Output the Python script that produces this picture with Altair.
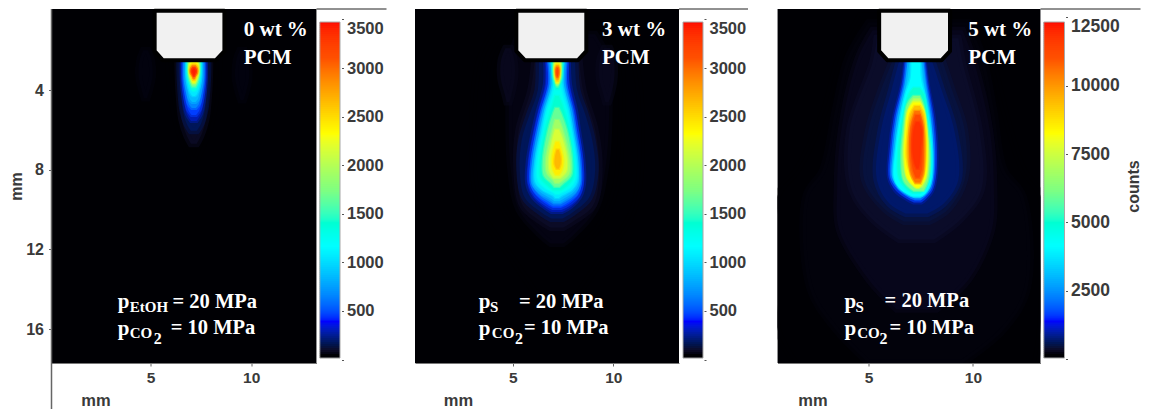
import altair as alt
import numpy as np
import pandas as pd

alt.data_transformers.disable_max_rows()

# colour ramp stops, as fractions of each bar's top value
STOP_T = [0, 0.012, 0.11, 0.333, 0.5, 0.667, 0.89, 1]
STOP_C = ["#000000", "#000004", "#0000ff", "#00ffff", "#80ff80", "#ffff00", "#ff5000", "#ff0000"]

Y_DOMAIN = [17.70, -0.066]
X_DOMAINS = [[0.07, 13.25], [0.14, 13.27], [0.646, 13.23]]
WIDTHS = [265, 264, 263]
BAR_TOPS = [3473, 3473, 12335]
BAR_BOTTOMS = [16, 16, 37]
BAR_DOMAINS = [[-35, 3607], [-35, 3607], [-146, 12811]]
BAR_TICKS = [[0, 500, 1000, 1500, 2000, 2500, 3000, 3500],
             [0, 500, 1000, 1500, 2000, 2500, 3000, 3500],
             [0, 2500, 5000, 7500, 10000, 12500]]

# measured iso-count outlines: (counts, [(y mm, left mm, right mm), ...])
P1_CONTOURS = [
    (0, [(-0.066, 0.07, 13.25), (17.70, 0.07, 13.25)]),
    (30, [(2.4, 5.9, 8.4), (4, 6.0, 8.3), (6, 6.4, 7.9), (7.2, 6.9, 7.4), (7.6, 7.15, 7.15)]),
    (50, [(2.0, 4.75, 4.75), (2.5, 4.45, 5.05), (3.3, 4.4, 5.1), (4.0, 4.55, 4.95), (4.4, 4.75, 4.75)]),
    (50, [(2.0, 9.55, 9.55), (2.5, 9.25, 9.85), (3.4, 9.2, 9.9), (4.1, 9.35, 9.75), (4.5, 9.55, 9.55)]),
    (80, [(2.4, 6.35, 7.95), (4, 6.4, 7.9), (5.5, 6.55, 7.75), (6.3, 6.8, 7.5), (6.7, 7.15, 7.15)]),
    (160, [(2.4, 6.45, 7.85), (3.5, 6.47, 7.83), (5, 6.6, 7.7), (5.7, 6.8, 7.5), (6.05, 7.15, 7.15)]),
    (280, [(2.4, 6.55, 7.75), (3.5, 6.55, 7.75), (4.5, 6.65, 7.65), (5.2, 6.8, 7.5), (5.55, 7.15, 7.15)]),
    (450, [(2.4, 6.62, 7.68), (3.5, 6.62, 7.68), (4.4, 6.72, 7.58), (5.0, 6.87, 7.43), (5.25, 7.15, 7.15)]),
    (650, [(2.4, 6.68, 7.62), (3.5, 6.68, 7.62), (4.2, 6.78, 7.52), (4.7, 6.9, 7.4), (4.9, 7.15, 7.15)]),
    (850, [(2.4, 6.73, 7.57), (3.4, 6.73, 7.57), (4.0, 6.83, 7.47), (4.45, 6.95, 7.35), (4.6, 7.15, 7.15)]),
    (1050, [(2.4, 6.78, 7.52), (3.3, 6.78, 7.52), (3.85, 6.87, 7.43), (4.2, 7.0, 7.3), (4.3, 7.15, 7.15)]),
    (1300, [(2.4, 6.82, 7.48), (3.2, 6.82, 7.48), (3.7, 6.92, 7.38), (4.0, 7.05, 7.25), (4.05, 7.15, 7.15)]),
    (1600, [(2.45, 6.85, 7.45), (3.2, 6.87, 7.43), (3.6, 6.95, 7.35), (3.85, 7.15, 7.15)]),
    (1900, [(2.55, 6.9, 7.4), (3.1, 6.9, 7.4), (3.5, 6.98, 7.32), (3.72, 7.15, 7.15)]),
    (2300, [(2.6, 7.0, 7.32), (2.75, 6.93, 7.37), (3.15, 6.93, 7.37), (3.45, 7.02, 7.28), (3.62, 7.15, 7.15)]),
    (2700, [(2.72, 7.15, 7.15), (2.85, 6.97, 7.33), (3.15, 6.97, 7.33), (3.4, 7.07, 7.23), (3.5, 7.15, 7.15)]),
    (3100, [(2.82, 7.15, 7.15), (2.95, 7.0, 7.3), (3.15, 7.0, 7.3), (3.3, 7.1, 7.2), (3.38, 7.15, 7.15)]),
    (3400, [(2.92, 7.15, 7.15), (3.05, 7.05, 7.25), (3.2, 7.1, 7.2), (3.28, 7.15, 7.15)]),
]

P2_CONTOURS = [
    (15, [(-0.066, 0.14, 13.27), (17.70, 0.14, 13.27)]),
    (25, [(0.3, 4.6, 9.8), (2.4, 3.4, 11.0), (6, 3.0, 11.4), (10, 3.4, 11.0), (12.5, 5.0, 9.4), (14.5, 7.2, 7.2)]),
    (35, [(0.8, 5.0, 9.4), (2.4, 4.0, 10.3), (6, 3.9, 10.4), (9, 4.2, 10.1), (11, 5.2, 9.2), (12.5, 6.7, 7.7), (13, 7.2, 7.2)]),
    (55, [(1.2, 5.3, 9.1), (2.4, 4.9, 9.7), (5, 4.8, 9.8), (8, 4.9, 9.6), (10, 5.3, 9.1), (11.3, 6.4, 8.0), (11.7, 7.2, 7.2)]),
    (70, [(1.9, 4.77, 4.77), (2.5, 4.42, 5.08), (3.4, 4.4, 5.1), (4.2, 4.6, 4.95), (4.6, 4.77, 4.77)]),
    (70, [(1.9, 9.69, 9.69), (2.5, 9.32, 10.03), (3.4, 9.3, 10.05), (4.2, 9.5, 9.9), (4.6, 9.69, 9.69)]),
    (85, [(2.4, 6.1, 8.3), (4, 5.9, 8.5), (6, 5.3, 9.1), (8, 5.2, 9.3), (9.8, 5.5, 9.0), (10.6, 6.4, 8.0), (10.9, 7.2, 7.2)]),
    (160, [(2.4, 6.3, 8.1), (4, 6.25, 8.2), (5.2, 5.85, 8.6), (6.5, 5.45, 8.95), (8, 5.35, 9.1), (9.4, 5.6, 8.8), (10.2, 6.5, 7.9), (10.45, 7.2, 7.2)]),
    (280, [(2.4, 6.6, 7.8), (3.7, 6.6, 7.85), (5.04, 6.25, 8.15), (6.04, 6.02, 8.3), (7.54, 5.75, 8.52), (8.7, 5.72, 8.55), (9.37, 6.0, 8.35), (9.87, 6.55, 7.9), (10.12, 7.2, 7.2)]),
    (450, [(2.4, 6.72, 7.72), (3.7, 6.75, 7.72), (5.04, 6.38, 8.02), (6.04, 6.15, 8.2), (7.54, 5.88, 8.42), (8.7, 5.85, 8.44), (9.3, 6.15, 8.25), (9.75, 6.7, 7.75), (9.92, 7.2, 7.2)]),
    (650, [(2.4, 6.78, 7.66), (3.7, 6.85, 7.62), (5.04, 6.48, 7.95), (6.04, 6.25, 8.1), (7.54, 5.98, 8.33), (8.7, 5.95, 8.35), (9.2, 6.25, 8.15), (9.6, 6.8, 7.65), (9.75, 7.2, 7.2)]),
    (850, [(2.4, 6.84, 7.6), (3.7, 6.92, 7.55), (5.04, 6.55, 7.87), (6.04, 6.33, 8.03), (7.54, 6.06, 8.26), (8.7, 6.02, 8.28), (9.1, 6.35, 8.05), (9.45, 6.9, 7.55), (9.58, 7.2, 7.2)]),
    (1050, [(2.4, 6.9, 7.55), (3.7, 7.0, 7.48), (5.04, 6.63, 7.8), (6.04, 6.42, 7.97), (7.54, 6.14, 8.2), (8.6, 6.12, 8.2), (9.0, 6.45, 7.95), (9.3, 7.0, 7.45), (9.42, 7.2, 7.2)]),
    (1250, [(2.4, 6.96, 7.5), (3.7, 7.08, 7.38), (4.3, 6.98, 7.48), (5.04, 6.72, 7.7), (6.04, 6.52, 7.88), (7.54, 6.25, 8.1), (8.5, 6.25, 8.1), (8.9, 6.6, 7.85), (9.15, 7.05, 7.4), (9.22, 7.2, 7.2)]),
    (1400, [(2.4, 6.98, 7.47), (3.4, 7.0, 7.45), (3.75, 7.1, 7.35), (3.95, 7.22, 7.22)]),
    (1400, [(4.3, 7.2, 7.2), (4.7, 7.0, 7.45), (6.04, 6.62, 7.8), (7.54, 6.38, 8.02), (8.4, 6.4, 8.0), (8.8, 6.75, 7.7), (9.02, 7.2, 7.2)]),
    (1650, [(2.4, 7.03, 7.42), (3.4, 7.05, 7.4), (3.7, 7.14, 7.3), (3.82, 7.22, 7.22)]),
    (1650, [(4.9, 7.2, 7.2), (5.2, 7.0, 7.42), (6.04, 6.75, 7.7), (7.54, 6.5, 7.95), (8.3, 6.55, 7.9), (8.65, 6.9, 7.55), (8.85, 7.2, 7.2)]),
    (1900, [(2.5, 7.07, 7.38), (3.35, 7.07, 7.37), (3.6, 7.15, 7.3), (3.72, 7.22, 7.22)]),
    (1900, [(5.5, 7.2, 7.2), (5.9, 7.0, 7.45), (7.54, 6.65, 7.83), (8.2, 6.72, 7.8), (8.5, 7.0, 7.5), (8.65, 7.2, 7.2)]),
    (2150, [(2.6, 7.1, 7.35), (3.3, 7.1, 7.34), (3.55, 7.18, 7.27), (3.65, 7.22, 7.22)]),
    (2150, [(6.0, 7.2, 7.2), (6.4, 7.0, 7.45), (7.54, 6.8, 7.7), (8.1, 6.85, 7.65), (8.4, 7.2, 7.2)]),
    (2400, [(2.67, 7.22, 7.22), (2.8, 7.1, 7.35), (3.3, 7.12, 7.33), (3.62, 7.22, 7.22)]),
    (2400, [(6.6, 7.22, 7.22), (7.0, 7.02, 7.42), (7.55, 6.95, 7.52), (8.0, 7.0, 7.45), (8.25, 7.22, 7.22)]),
    (2650, [(2.75, 7.22, 7.22), (2.88, 7.12, 7.33), (3.25, 7.14, 7.31), (3.52, 7.22, 7.22)]),
    (2650, [(7.0, 7.24, 7.24), (7.35, 7.1, 7.38), (7.7, 7.08, 7.38), (7.95, 7.24, 7.24)]),
    (2900, [(2.82, 7.22, 7.22), (2.95, 7.14, 7.3), (3.25, 7.16, 7.28), (3.42, 7.22, 7.22)]),
    (3200, [(2.9, 7.22, 7.22), (3.0, 7.17, 7.27), (3.2, 7.17, 7.27), (3.32, 7.22, 7.22)]),
]

P3_CONTOURS = [
    (40, [(-0.066, 0.646, 13.23), (17.70, 0.646, 13.23)]),
    (90, [(0.3, 4.6, 10.2), (2.4, 3.6, 10.9), (5, 2.9, 11.5), (8, 1.6, 12.4), (9.3, 0.646, 13.23), (16, 0.646, 13.23), (17.7, 1.5, 13.0)]),
    (170, [(0.6, 5.0, 9.8), (2.4, 4.0, 10.5), (5, 3.4, 11.0), (8, 2.8, 11.5), (9.3, 2.0, 12.4), (14, 2.2, 12.6), (16, 3.4, 11.5), (17.7, 5.0, 9.5)]),
    (240, [(1.0, 5.2, 9.5), (2.4, 4.5, 10.0), (6, 3.7, 10.8), (9, 3.5, 11.0), (11, 3.6, 10.9), (13.5, 5.0, 9.8), (15.0, 7.3, 7.3)]),
    (320, [(1.4, 5.4, 9.3), (2.6, 5.2, 9.5), (6, 4.1, 10.3), (9, 4.2, 10.4), (10.5, 5.2, 9.4), (11.5, 7.3, 7.3)]),
    (430, [(2.4, 6.2, 8.5), (4, 5.6, 9.0), (6, 5.0, 9.6), (8.5, 4.8, 9.6), (10, 5.8, 8.8), (10.6, 7.3, 7.3)]),
    (650, [(2.4, 6.5, 8.0), (4, 6.1, 8.5), (6, 5.6, 9.1), (8.5, 5.4, 9.3), (9.7, 6.0, 8.6), (10.2, 7.3, 7.3)]),
    (1000, [(2.4, 6.77, 7.68), (3.71, 6.61, 7.84), (5.38, 6.22, 8.13), (7.06, 6.02, 8.26), (8.39, 5.98, 8.21), (9.06, 6.3, 8.05), (9.48, 6.85, 7.73), (9.65, 7.35, 7.35)]),
    (1700, [(2.4, 6.82, 7.63), (3.7, 6.68, 7.78), (5.38, 6.3, 8.05), (7.06, 6.1, 8.18), (8.39, 6.06, 8.13), (9.0, 6.4, 7.98), (9.42, 6.95, 7.65), (9.55, 7.35, 7.35)]),
    (2500, [(2.4, 6.88, 7.58), (3.7, 6.75, 7.72), (5.38, 6.38, 7.98), (7.06, 6.18, 8.1), (8.39, 6.14, 8.05), (8.95, 6.5, 7.92), (9.33, 7.0, 7.6), (9.43, 7.35, 7.35)]),
    (3300, [(2.4, 6.98, 7.52), (3.7, 6.82, 7.66), (5.38, 6.46, 7.9), (7.06, 6.26, 8.02), (8.39, 6.22, 7.99), (8.9, 6.6, 7.85), (9.25, 7.05, 7.55), (9.35, 7.35, 7.35)]),
    (4100, [(2.4, 7.05, 7.46), (3.38, 7.02, 7.5), (4.21, 6.77, 7.68), (5.38, 6.53, 7.89), (7.06, 6.3, 8.05), (8.39, 6.22, 8.02), (8.9, 6.45, 7.89), (9.26, 6.93, 7.65), (9.35, 7.3, 7.3)]),
    (5000, [(3.88, 7.3, 7.3), (4.21, 6.93, 7.65), (5.38, 6.65, 7.81), (7.06, 6.42, 7.97), (8.39, 6.45, 7.92), (8.9, 6.77, 7.73), (9.15, 7.3, 7.3)]),
    (6150, [(4.3, 7.3, 7.3), (4.72, 6.85, 7.62), (6.05, 6.66, 7.84), (7.39, 6.57, 7.94), (8.56, 6.69, 7.84), (9.06, 7.4, 7.4)]),
    (7200, [(4.46, 7.3, 7.3), (4.85, 6.95, 7.6), (6.05, 6.76, 7.76), (7.39, 6.68, 7.85), (8.4, 6.85, 7.75), (8.85, 7.4, 7.4)]),
    (8200, [(4.63, 7.3, 7.3), (5.05, 6.89, 7.65), (6.05, 6.77, 7.78), (7.39, 6.73, 7.81), (8.39, 6.85, 7.73), (8.81, 7.17, 7.49), (8.9, 7.35, 7.35)]),
    (9300, [(4.8, 7.33, 7.33), (5.2, 7.0, 7.63), (6.05, 6.88, 7.72), (7.39, 6.83, 7.73), (8.2, 7.0, 7.65), (8.7, 7.38, 7.38)]),
    (10500, [(5.05, 7.33, 7.33), (5.72, 7.01, 7.62), (7.06, 6.93, 7.68), (8.23, 7.04, 7.62), (8.64, 7.35, 7.35)]),
    (11200, [(5.25, 7.35, 7.35), (5.8, 7.08, 7.58), (7.06, 7.02, 7.6), (8.0, 7.12, 7.55), (8.4, 7.35, 7.35)]),
    (11800, [(5.6, 7.35, 7.35), (6.0, 7.15, 7.55), (7.1, 7.1, 7.5), (7.7, 7.2, 7.45), (7.95, 7.35, 7.35)]),
]

# nozzle outline (y, left, right) in mm
NOZZLE_Y = [0.02, 2.05, 2.5]
NOZZLE_L = [[5.2, 5.2, 5.6], [5.18, 5.18, 5.6], [5.51, 5.51, 5.9]]
NOZZLE_R = [[8.67, 8.67, 8.25], [8.66, 8.66, 8.25], [8.9, 8.9, 8.5]]

# annotations: text, x mm, y mm, font size
P1_TEXT = [("0 wt %", 9.63, 1.29, 21), ("PCM", 9.63, 2.7, 21),
           ("p", 3.36, 14.94, 21), ("EtOH", 3.96, 15.15, 15), ("= 20 MPa", 6.09, 14.94, 20.5),
           ("p", 3.36, 16.3, 21), ("CO", 3.96, 16.45, 15), ("2", 5.15, 16.75, 16), ("= 10 MPa", 6.0, 16.25, 20.5)]
P2_TEXT = [("3 wt %", 9.44, 1.29, 21), ("PCM", 9.44, 2.7, 21),
           ("p", 3.31, 14.94, 21), ("S", 3.87, 15.15, 15), ("= 20 MPa", 5.31, 14.94, 20.5),
           ("p", 3.31, 16.3, 21), ("CO", 3.96, 16.45, 15), ("2", 5.11, 16.75, 16), ("= 10 MPa", 5.56, 16.25, 20.5)]
P3_TEXT = [("5 wt %", 9.77, 1.29, 21), ("PCM", 9.77, 2.7, 21),
           ("p", 3.85, 14.94, 21), ("S", 4.38, 15.15, 15), ("= 20 MPa", 5.77, 14.9, 20.5),
           ("p", 3.85, 16.3, 21), ("CO", 4.46, 16.45, 15), ("2", 5.53, 16.75, 16), ("= 10 MPa", 6.0, 16.25, 20.5)]

SANS = "Liberation Sans"
SERIF = "Liberation Serif"
INK = "#3a3a3a"


def contour_frame(contours, top):
    rows = []
    for i, (level, pts) in enumerate(contours):
        for j, (y, l, r) in enumerate(pts):
            if l == r:
                # round the closed tip of an outline instead of ending it on a point
                nb = pts[j - 1] if j > 0 else pts[j + 1]
                half = 0.4 * (nb[2] - nb[1]) / 2
                l, r = l - half, r + half
            rows.append({"id": f"{i:03d}", "level": level, "y": y, "xl": l, "xr": r,
                         "sw": 7 if level < 0.08 * top else (4 if level < 0.3 * top else 2.5)})
    return pd.DataFrame(rows)


def panel(idx, contours, texts):
    top = BAR_TOPS[idx]
    bottom = BAR_BOTTOMS[idx]
    color_scale = alt.Scale(domain=[t * top for t in STOP_T], range=STOP_C, clamp=True)
    xs = alt.Scale(domain=X_DOMAINS[idx], nice=False, zero=False)
    ys = alt.Scale(domain=Y_DOMAIN, nice=False, zero=False)
    x_title_x = [44, 43, 35][idx]

    x_axis = alt.Axis(values=[5, 10], title="mm", grid=False, labelFont=SANS, labelFontWeight="bold",
                      labelFontSize=15.5, labelColor=INK, labelPadding=4, tickSize=3, tickColor="#666666",
                      domainColor="#777777", titleFont=SANS, titleFontWeight="bold", titleFontSize=16.5,
                      titleColor=INK, titleX=x_title_x, titleY=42, titleAlign="center",
                      titleBaseline="alphabetic")
    if idx == 0:
        y_axis = alt.Axis(values=[4, 8, 12, 16], title="mm", grid=False, labelFont=SANS, labelFontWeight="bold",
                          labelFontSize=16, labelColor=INK, labelPadding=5, tickSize=3, tickColor="#666666",
                          domain=False, titleFont=SANS, titleFontWeight="bold", titleFontSize=16,
                          titleColor=INK, titleX=-35, titleY=177, titleBaseline="middle")
    else:
        y_axis = None

    field = alt.Chart(contour_frame(contours, top)).mark_area(
        orient="horizontal", interpolate="catmull-rom", clip=True, strokeOpacity=0.5
    ).encode(
        x=alt.X("xl:Q", scale=xs, axis=x_axis),
        x2="xr:Q",
        y=alt.Y("y:Q", scale=ys, axis=y_axis),
        color=alt.Color("level:Q", scale=color_scale, legend=None),
        stroke=alt.Stroke("level:Q", scale=color_scale, legend=None),
        strokeWidth=alt.StrokeWidth("sw:Q", scale=None, legend=None),
        detail="id:N",
    )

    nozzle = alt.Chart(pd.DataFrame({"y": NOZZLE_Y, "l": NOZZLE_L[idx], "r": NOZZLE_R[idx]})).mark_area(
        orient="horizontal", fill="#f1f1f1", stroke="#000000", strokeWidth=4, strokeJoin="round"
    ).encode(
        x=alt.X("l:Q", scale=xs, axis=None),
        x2="r:Q",
        y=alt.Y("y:Q", scale=ys, axis=None),
    )

    labels = alt.Chart(pd.DataFrame(texts, columns=["t", "x", "y", "s"])).mark_text(
        font=SERIF, fontWeight="bold", align="left", baseline="alphabetic", color="#ffffff"
    ).encode(
        x=alt.X("x:Q", scale=xs, axis=None),
        y=alt.Y("y:Q", scale=ys, axis=None),
        text="t:N",
        size=alt.Size("s:Q", scale=None, legend=None),
    )

    ramp = np.linspace(bottom, top, 171)
    bar_df = pd.DataFrame({"v": ramp[:-1], "v2": np.minimum(ramp[1:] + (top - bottom) / 340, top)})
    bar_domain = BAR_DOMAINS[idx]
    bs = alt.Scale(domain=bar_domain, nice=False, zero=False)
    bar_x = [(268.3, 288.5), (268, 288), (266.3, 287)][idx]
    ticks = BAR_TICKS[idx]
    max_tick = ticks[-1]
    bar_kwargs = dict(titleX=76, titleY=177, titleAlign="center") if idx == 2 else {}
    bar_axis = alt.Axis(
        orient="right", values=ticks, format="d", grid=False, domain=False, offset=25,
        tickSize=2, tickColor="#555555", labelFont=SANS, labelFontWeight="bold",
        labelFontSize=[16.5, 16.5, 17.5][idx], labelColor=INK, labelPadding=3,
        labelExpr="datum.value === 0 ? '' : datum.label",
        labelOffset={"condition": {"test": f"datum.value === {max_tick}", "value": 9}, "value": 0},
        title="counts" if idx == 2 else None,
        titleFont=SANS, titleFontWeight="bold", titleFontSize=16, titleColor=INK,
        titleAngle=-90, **bar_kwargs,
    )
    bar = alt.Chart(bar_df).mark_rect().encode(
        x=alt.value(bar_x[0]), x2=alt.value(bar_x[1]),
        y=alt.Y("v:Q", scale=bs, axis=bar_axis), y2="v2:Q",
        color=alt.Color("v:Q", scale=color_scale, legend=None),
    )
    bar_frame = alt.Chart(pd.DataFrame({"v": [bottom], "v2": [top]})).mark_rect(
        fill=None, stroke="#a8a8a8", strokeWidth=1
    ).encode(
        x=alt.value(bar_x[0]), x2=alt.value(bar_x[1]),
        y=alt.Y("v:Q", scale=bs, axis=None), y2="v2:Q",
    )

    w = WIDTHS[idx]
    top_rule = alt.Chart(pd.DataFrame({"a": [0]})).mark_rule(color="#222222", strokeWidth=1).encode(
        x=alt.value(w), x2=alt.value([335, 333, 363][idx]), y=alt.value(0)
    )
    layers = [field, nozzle, labels, bar, bar_frame, top_rule]
    if idx == 0:
        left_rule = alt.Chart(pd.DataFrame({"a": [0]})).mark_rule(color="#666666", strokeWidth=1.5).encode(
            x=alt.value(0), y=alt.value(0), y2=alt.value(400)
        )
        layers.append(left_rule)
    return alt.layer(*layers).resolve_scale(x="independent", y="independent").properties(width=w, height=354)


chart = alt.hconcat(
    panel(0, P1_CONTOURS, P1_TEXT),
    panel(1, P2_CONTOURS, P2_TEXT),
    panel(2, P3_CONTOURS, P3_TEXT),
    spacing=98.5,
    bounds="flush",
).resolve_scale(color="independent", stroke="independent").properties(
    padding={"left": 0.5, "top": 0, "right": 0, "bottom": 0}
).configure_view(stroke=None)

chart.save("out.html", embed_options={"renderer": "svg", "actions": False})
